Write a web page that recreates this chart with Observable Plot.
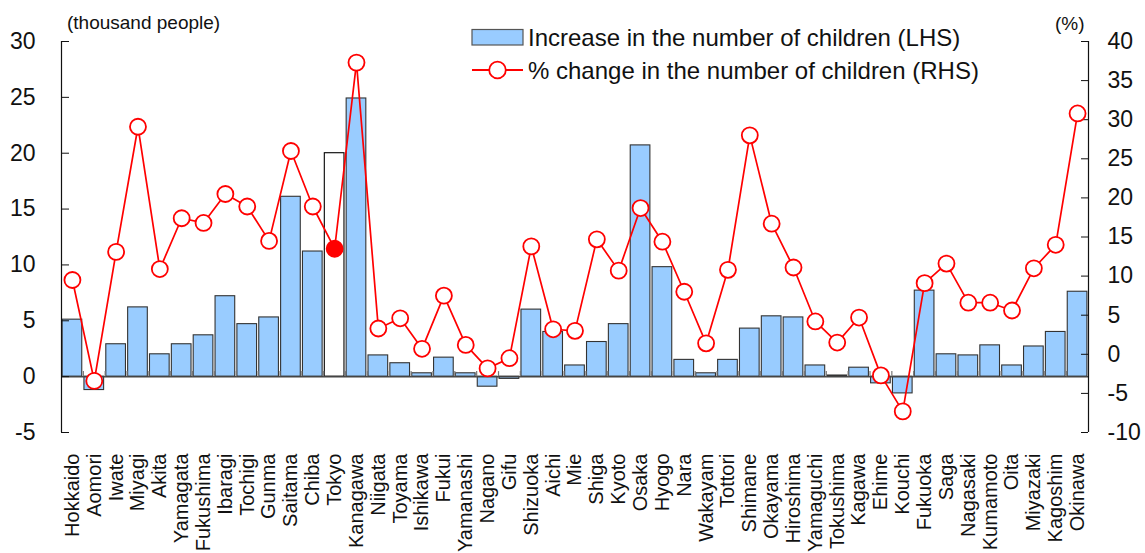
<!DOCTYPE html>
<html>
<head>
<meta charset="utf-8">
<script src="https://cdn.jsdelivr.net/npm/d3@7"></script>
<script src="https://cdn.jsdelivr.net/npm/@observablehq/plot@0.6"></script>
<style>
  html, body { margin: 0; padding: 0; background: #fff; }
  #wrap { position: relative; width: 1145px; height: 553px; font-family: "Liberation Sans", Arial, sans-serif; color: #111; }
  #chart { position: absolute; left: 0; top: 0; }
  .note { position: absolute; font-size: 19px; line-height: 1; white-space: nowrap; }
  .legend-text { position: absolute; font-size: 24px; line-height: 1; white-space: nowrap; transform: translateY(-50%); }
  .legend-key { position: absolute; }
</style>
</head>
<body>
<div id="wrap">
  <div id="chart"></div>
  <div class="note" style="left:67px; top:13px;">(thousand people)</div>
  <div class="note" style="left:1055px; top:14px;">(%)</div>
  <svg class="legend-key" style="left:470px; top:26px;" width="56" height="56">
    <rect x="2" y="3.5" width="51" height="15.5" fill="#99ccff" stroke="#555" stroke-width="1.2"></rect>
    <line x1="2" x2="53" y1="44" y2="44" stroke="red" stroke-width="1.8"></line>
    <circle cx="27.5" cy="44" r="8.3" fill="white" stroke="red" stroke-width="1.8"></circle>
  </svg>
  <div class="legend-text" style="left:528px; top:38px;">Increase in the number of children (LHS)</div>
  <div class="legend-text" style="left:528px; top:71px;">% change in the number of children (RHS)</div>
</div>
<script>
// Prefectures, in the usual north-to-south order
const categories = [
  "Hokkaido", "Aomori", "Iwate", "Miyagi", "Akita", "Yamagata", "Fukushima",
  "Ibaragi", "Tochigi", "Gunma", "Saitama", "Chiba", "Tokyo", "Kanagawa",
  "Niigata", "Toyama", "Ishikawa", "Fukui", "Yamanashi", "Nagano", "Gifu",
  "Shizuoka", "Aichi", "Mie", "Shiga", "Kyoto", "Osaka", "Hyogo", "Nara",
  "Wakayam", "Tottori", "Shimane", "Okayama", "Hiroshima", "Yamaguchi",
  "Tokushima", "Kagawa", "Ehime", "Kouchi", "Fukuoka", "Saga", "Nagasaki",
  "Kumamoto", "Oita", "Miyazaki", "Kagoshim", "Okinawa"
];

// Increase in the number of children (thousand people, LHS)
const increase = [
  5.1, -1.2, 2.9, 6.2, 2.0, 2.9, 3.7,
  7.2, 4.7, 5.3, 16.1, 11.2, 20.0, 24.9,
  1.9, 1.2, 0.3, 1.7, 0.3, -0.9, -0.2,
  6.0, 4.0, 1.0, 3.1, 4.7, 20.7, 9.8, 1.5,
  0.3, 1.5, 4.3, 5.4, 5.3, 1.0,
  0.1, 0.8, -0.6, -1.5, 7.7, 2.0, 1.9,
  2.8, 1.0, 2.7, 4.0, 7.6
];

// % change in the number of children (RHS)
const pctChange = [
  9.5, -3.4, 13.1, 29.1, 10.9, 17.4, 16.8,
  20.5, 18.9, 14.5, 26.0, 18.9, 13.5, 37.3,
  3.3, 4.6, 0.7, 7.5, 1.2, -1.8, -0.5,
  13.8, 3.2, 3.0, 14.7, 10.7, 18.7, 14.4, 8.0,
  1.4, 10.8, 28.0, 16.7, 11.1, 4.2,
  1.5, 4.7, -2.7, -7.3, 9.1, 11.6, 6.6,
  6.6, 5.6, 11.0, 14.0, 30.8
];

const highlight = "Tokyo";
const leftTicks = [-5, 0, 5, 10, 15, 20, 25, 30];
const rightTicks = [-10, -5, 0, 5, 10, 15, 20, 25, 30, 35, 40];

// The right axis (-10..40 %) shares the plot height with the left axis (-5..30)
const leftDomain = [-5, 30];
const rightDomain = [-10, 40];
const ratio = (leftDomain[1] - leftDomain[0]) / (rightDomain[1] - rightDomain[0]);
const toLeft = p => leftDomain[0] + (p - rightDomain[0]) * ratio;
const toRight = v => rightDomain[0] + (v - leftDomain[0]) / ratio;

const rows = categories.map((name, i) => ({name, inc: increase[i], pct: pctChange[i]}));

const width = 1145, height = 553;
const margin = {left: 61, right: 57, top: 41, bottom: 121};
const frameWidth = width - margin.left - margin.right;
const step = frameWidth / categories.length;

const chart = Plot.plot({
  width, height,
  marginLeft: margin.left, marginRight: margin.right,
  marginTop: margin.top, marginBottom: margin.bottom,
  style: {fontFamily: "'Liberation Sans', Arial, sans-serif", color: "#111", background: "white"},
  x: {type: "band", domain: categories, paddingInner: 0.1, paddingOuter: 0.05},
  y: {domain: leftDomain},
  marks: [
    Plot.barY(rows, {
      x: "name", y: "inc",
      fill: d => d.name === highlight ? "white" : "#99ccff",
      stroke: d => d.name === highlight ? "#000" : "#333",
      strokeWidth: 1.1
    }),
    // zero line with category dividers
    Plot.ruleY([0], {stroke: "#444", strokeWidth: 1.5}),
    Plot.ruleX(categories.slice(1), {x: d => d, y1: 0, y2: 0.45, dx: -step / 2, stroke: "#777", strokeWidth: 1.2}),
    // left axis: line, inward ticks, labels
    Plot.ruleX([categories[0]], {x: d => d, y1: leftDomain[0], y2: leftDomain[1], dx: -step / 2, stroke: "#111", strokeWidth: 1.2}),
    Plot.axisY({anchor: "left", ticks: leftTicks, tickSize: 0, tickPadding: 26, label: null, fontSize: 23,
      tickFormat: d => String(d)}),
    Plot.ruleY(leftTicks, {y: d => d, insetRight: frameWidth - 8, stroke: "#111"}),
    // right axis (percent): line, inward ticks, labels
    Plot.ruleX([categories[categories.length - 1]], {x: d => d, y1: leftDomain[0], y2: leftDomain[1], dx: step / 2, stroke: "#111", strokeWidth: 1.2}),
    Plot.axisY({anchor: "right", ticks: rightTicks.map(toLeft), tickSize: 0, tickPadding: 19, label: null, fontSize: 23,
      tickFormat: d => String(Math.round(toRight(d)))}),
    Plot.ruleY(rightTicks.map(toLeft), {y: d => d, insetLeft: frameWidth - 7, stroke: "#111"}),
    // category axis
    Plot.axisX({tickRotate: -90, tickSize: 0, tickPadding: 21, fontSize: 20, label: null}),
    // % change line with markers
    Plot.line(rows, {x: "name", y: d => toLeft(d.pct), stroke: "red", strokeWidth: 1.7}),
    Plot.dot(rows, {
      x: "name", y: d => toLeft(d.pct), r: 8,
      fill: d => d.name === highlight ? "red" : "white",
      stroke: "red", strokeWidth: 1.8
    })
  ]
});

document.getElementById("chart").appendChild(chart);
</script>
</body>
</html>
